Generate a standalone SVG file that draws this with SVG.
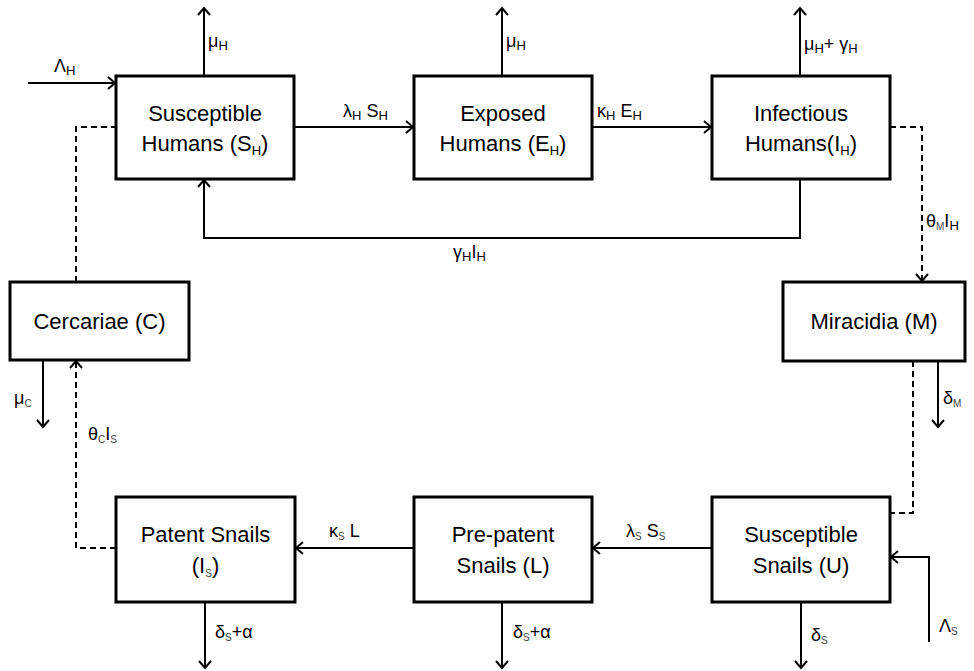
<svg xmlns="http://www.w3.org/2000/svg" width="974" height="671" viewBox="0 0 974 671">
<style>
.box{fill:#fff;stroke:#000;stroke-width:3}
.bt{font-family:"Liberation Sans",Arial,sans-serif;font-size:22px;fill:#000;text-anchor:middle}
.lb{font-family:"Liberation Sans",Arial,sans-serif;font-size:18px;fill:#000}
.sub{font-size:13px}
.ss{font-size:10px;fill:#444}
.ln{fill:none;stroke:#000;stroke-width:2}
.ds{fill:none;stroke:#000;stroke-width:2;stroke-dasharray:6,4}
</style>
<defs>
<marker id="ah" markerUnits="userSpaceOnUse" markerWidth="14" markerHeight="14" viewBox="0 0 14 14" refX="12" refY="7" orient="auto">
<path d="M5,1 L12,7 L5,13" fill="none" stroke="#000" stroke-width="2"/>
</marker>
</defs>
<rect width="974" height="671" fill="#fff"/>
<g id="connectors">
<path class="ln" d="M28,83 H115" marker-end="url(#ah)"/>
<path class="ln" d="M204,76 V8" marker-end="url(#ah)"/>
<path class="ln" d="M502,76 V8" marker-end="url(#ah)"/>
<path class="ln" d="M800,76 V8" marker-end="url(#ah)"/>
<path class="ln" d="M294,127 H413" marker-end="url(#ah)"/>
<path class="ln" d="M592,127 H711" marker-end="url(#ah)"/>
<path class="ln" d="M800,179 V238 H204 V180" marker-end="url(#ah)"/>
<path class="ds" d="M890,127 H922 V281" marker-end="url(#ah)"/>
<path class="ds" d="M76,282 V127 H116"/>
<path class="ln" d="M43,360 V427" marker-end="url(#ah)"/>
<path class="ds" d="M116,548 H76 V361" marker-end="url(#ah)"/>
<path class="ln" d="M938,361 V427" marker-end="url(#ah)"/>
<path class="ds" d="M913,361 V513 H890"/>
<path class="ln" d="M414,548 H296" marker-end="url(#ah)"/>
<path class="ln" d="M712,548 H593" marker-end="url(#ah)"/>
<path class="ln" d="M205,602 V668" marker-end="url(#ah)"/>
<path class="ln" d="M502,602 V668" marker-end="url(#ah)"/>
<path class="ln" d="M801,602 V668" marker-end="url(#ah)"/>
<path class="ln" d="M929,642 V557 H891" marker-end="url(#ah)"/>
</g>
<g id="labels">
<text class="lb" x="54" y="72">Λ<tspan class="sub" dy="3">H</tspan></text>
<text class="lb" x="208" y="47">μ<tspan class="sub" dy="3">H</tspan></text>
<text class="lb" x="506" y="47">μ<tspan class="sub" dy="3">H</tspan></text>
<text class="lb" x="804" y="50">μ<tspan class="sub" dy="3">H</tspan><tspan dy="-3">+ γ</tspan><tspan class="sub" dy="3">H</tspan></text>
<text class="lb" x="343" y="117">λ<tspan class="sub" dy="3">H</tspan><tspan dy="-3"> S</tspan><tspan class="sub" dy="3">H</tspan></text>
<text class="lb" x="597" y="117">κ<tspan class="sub" dy="3">H</tspan><tspan dy="-3"> E</tspan><tspan class="sub" dy="3">H</tspan></text>
<text class="lb" x="926" y="227">θ<tspan class="ss" dy="3">M</tspan><tspan dy="-3">I</tspan><tspan class="sub" dy="3">H</tspan></text>
<text class="lb" x="453" y="258">γ<tspan class="sub" dy="3">H</tspan><tspan dy="-3">I</tspan><tspan class="sub" dy="3">H</tspan></text>
<text class="lb" x="14" y="404">μ<tspan class="ss" dy="3">C</tspan></text>
<text class="lb" x="88" y="440">θ<tspan class="ss" dy="3">C</tspan><tspan dy="-3">I</tspan><tspan class="ss" dy="3">S</tspan></text>
<text class="lb" x="943" y="404">δ<tspan class="ss" dy="3">M</tspan></text>
<text class="lb" x="329" y="537">κ<tspan class="ss" dy="3">S</tspan><tspan dy="-3"> L</tspan></text>
<text class="lb" x="626" y="537">λ<tspan class="ss" dy="3">S</tspan><tspan dy="-3"> S</tspan><tspan class="ss" dy="3">S</tspan></text>
<text class="lb" x="215" y="638">δ<tspan class="ss" dy="3">S</tspan><tspan dy="-3">+α</tspan></text>
<text class="lb" x="513" y="638">δ<tspan class="ss" dy="3">S</tspan><tspan dy="-3">+α</tspan></text>
<text class="lb" x="811" y="641">δ<tspan class="ss" dy="3">S</tspan></text>
<text class="lb" x="939" y="632">Λ<tspan class="ss" dy="3">S</tspan></text>
</g>
<g id="node-sh">
<rect class="box" x="116" y="76" width="178" height="103"/>
<text class="bt" x="205" y="121">Susceptible</text>
<text class="bt" x="205" y="151">Humans (S<tspan class="sub" dy="4">H</tspan><tspan dy="-4">)</tspan></text>
</g>
<g id="node-eh">
<rect class="box" x="414" y="76" width="178" height="103"/>
<text class="bt" x="503" y="121">Exposed</text>
<text class="bt" x="503" y="151">Humans (E<tspan class="sub" dy="4">H</tspan><tspan dy="-4">)</tspan></text>
</g>
<g id="node-ih">
<rect class="box" x="712" y="76" width="178" height="103"/>
<text class="bt" x="801" y="121">Infectious</text>
<text class="bt" x="801" y="151">Humans(I<tspan class="sub" dy="4">H</tspan><tspan dy="-4">)</tspan></text>
</g>
<g id="node-c">
<rect class="box" x="10" y="282" width="179" height="78"/>
<text class="bt" x="99.5" y="329">Cercariae (C)</text>
</g>
<g id="node-m">
<rect class="box" x="783" y="282" width="182" height="79"/>
<text class="bt" x="874" y="329">Miracidia (M)</text>
</g>
<g id="node-is">
<rect class="box" x="116" y="497" width="179" height="105"/>
<text class="bt" x="205.5" y="542">Patent Snails</text>
<text class="bt" x="205.5" y="573">(I<tspan class="ss" dy="4">S</tspan><tspan dy="-4">)</tspan></text>
</g>
<g id="node-l">
<rect class="box" x="414" y="497" width="178" height="105"/>
<text class="bt" x="503" y="542">Pre-patent</text>
<text class="bt" x="503" y="573">Snails (L)</text>
</g>
<g id="node-u">
<rect class="box" x="712" y="497" width="178" height="105"/>
<text class="bt" x="801" y="542">Susceptible</text>
<text class="bt" x="801" y="573">Snails (U)</text>
</g>
</svg>
